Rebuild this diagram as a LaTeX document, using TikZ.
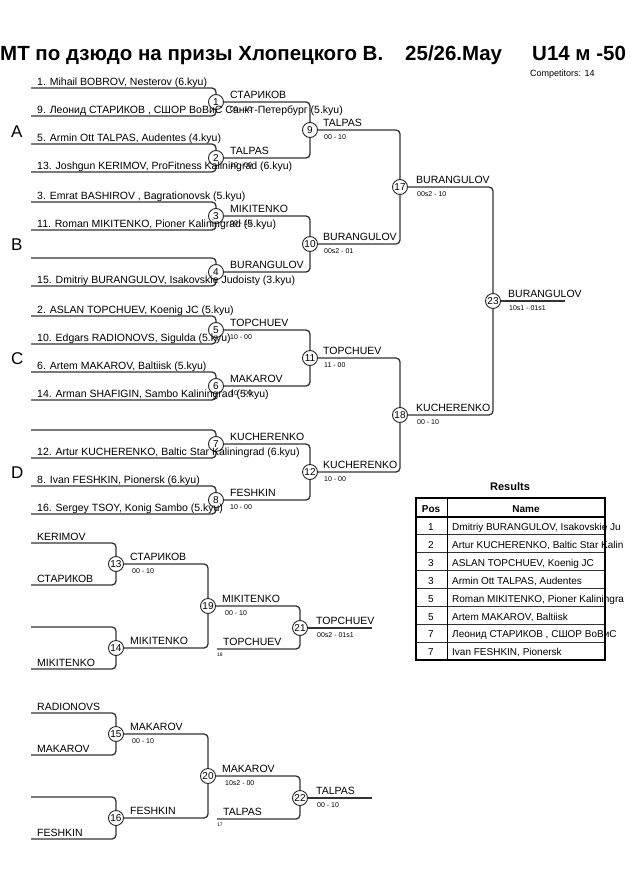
\documentclass[tikz,border=0pt]{standalone}
\usepackage{fontspec}
\setmainfont{Liberation Sans}
\begin{document}
\begin{tikzpicture}[x=1pt,y=-1pt,
  br/.style={draw=black!80, line width=1.3pt, rounded corners=4pt},
  mc/.style={circle, draw=black!85, line width=0.9pt, minimum size=15pt, inner sep=0pt, font=\fontsize{10}{10}\selectfont},
  nm/.style={anchor=base west, inner sep=0pt, font=\fontsize{10.5}{12}\selectfont},
  sc/.style={anchor=base west, inner sep=0pt, font=\fontsize{7}{8}\selectfont},
  tiny/.style={anchor=base west, inner sep=0pt, font=\fontsize{5}{6}\selectfont},
  sec/.style={anchor=base west, inner sep=0pt, font=\fontsize{17}{18}\selectfont},
  tl/.style={anchor=base west, inner sep=0pt, font=\fontsize{20.5}{22}\selectfont\bfseries},
  tbc/.style={anchor=base, inner sep=0pt, font=\fontsize{10}{12}\selectfont},
  tbh/.style={anchor=base, inner sep=0pt, font=\fontsize{10}{12}\selectfont\bfseries},
  tbn/.style={anchor=base west, inner sep=0pt, font=\fontsize{10}{12}\selectfont},
]
\clip (0,0) rectangle (630,891);
\fill[white] (0,0) rectangle (630,891);

% title
\node[tl] (t1) at (0,60) {МТ по дзюдо на призы Хлопецкого В.};
\node[tl] (t2) at (405,60) {25/26.May};
\node[tl] (t3) at (532,60) {U14 м -50};
\node[anchor=base west, inner sep=0pt, font=\fontsize{9}{10}\selectfont] (comp) at (530,77) {Competitors: 14};

% section letters
\node[sec] (sA) at (11,137) {A};
\node[sec] (sB) at (11,250) {B};
\node[sec] (sC) at (11,364) {C};
\node[sec] (sD) at (11,478) {D};

% ---------- main bracket circles ----------
\node[mc] (m1) at (216,102) {1};
\node[mc] (m2) at (216,158) {2};
\node[mc] (m3) at (216,216) {3};
\node[mc] (m4) at (216,272) {4};
\node[mc] (m5) at (216,330) {5};
\node[mc] (m6) at (216,386) {6};
\node[mc] (m7) at (216,444) {7};
\node[mc] (m8) at (216,500) {8};
\node[mc] (m9) at (310,130) {9};
\node[mc] (m10) at (310,244) {10};
\node[mc] (m11) at (310,358) {11};
\node[mc] (m12) at (310,472) {12};
\node[mc] (m17) at (400,187) {17};
\node[mc] (m18) at (400,415) {18};
\node[mc] (m23) at (493,301) {23};

% first-round entry lines
\foreach \k/\c in {1/102,2/158,3/216,4/272,5/330,6/386,7/444,8/500}{
  \coordinate (a\k) at (31,\c-14);
  \coordinate (b\k) at (31,\c+14);
  \draw[br] (a\k) -| (m\k);
  \draw[br] (b\k) -| (m\k);
}
\draw[br] (m1) -| (m9);  \draw[br] (m2) -| (m9);
\draw[br] (m3) -| (m10); \draw[br] (m4) -| (m10);
\draw[br] (m5) -| (m11); \draw[br] (m6) -| (m11);
\draw[br] (m7) -| (m12); \draw[br] (m8) -| (m12);
\draw[br] (m9) -| (m17); \draw[br] (m10) -| (m17);
\draw[br] (m11) -| (m18); \draw[br] (m12) -| (m18);
\draw[br] (m17) -| (m23); \draw[br] (m18) -| (m23);
\coordinate (fin) at (565,301);
\draw[br] (m23) -- (fin);

% competitor names
\node[nm] (n1) at (37,85) {1. Mihail BOBROV, Nesterov (6.kyu)};
\node[nm] (n9) at (37,113) {9. Леонид  СТАРИКОВ  , СШОР ВоВиС Санкт-Петербург (5.kyu)};
\node[nm] (n5) at (37,141) {5. Armin Ott TALPAS, Audentes (4.kyu)};
\node[nm] (n13) at (37,169) {13. Joshgun KERIMOV, ProFitness Kaliningrad (6.kyu)};
\node[nm] (n3) at (37,199) {3. Emrat BASHIROV , Bagrationovsk (5.kyu)};
\node[nm] (n11) at (37,227) {11. Roman MIKITENKO, Pioner Kaliningrad (5.kyu)};
\node[nm] (n15) at (37,283) {15. Dmitriy BURANGULOV, Isakovskie Judoisty (3.kyu)};
\node[nm] (n2) at (37,313) {2. ASLAN TOPCHUEV, Koenig JC (5.kyu)};
\node[nm] (n10) at (37,341) {10. Edgars RADIONOVS, Sigulda (5.kyu)};
\node[nm] (n6) at (37,369) {6. Artem MAKAROV, Baltiisk (5.kyu)};
\node[nm] (n14) at (37,397) {14. Arman SHAFIGIN, Sambo Kaliningrad (5.kyu)};
\node[nm] (n12) at (37,455) {12. Artur KUCHERENKO, Baltic Star Kaliningrad (6.kyu)};
\node[nm] (n8) at (37,483) {8. Ivan FESHKIN, Pionersk (6.kyu)};
\node[nm] (n16) at (37,511) {16. Sergey TSOY, Konig Sambo (5.kyu)};

% winners round 1
\node[nm] (w1) at (230,98) {СТАРИКОВ};   \node[sc] (s1) at (230,111) {00 - 10};
\node[nm] (w2) at (230,154) {TALPAS};    \node[sc] (s2) at (230,167) {10 - 00};
\node[nm] (w3) at (230,212) {MIKITENKO}; \node[sc] (s3) at (230,225) {00 - 10};
\node[nm] (w4) at (230,268) {BURANGULOV};
\node[nm] (w5) at (230,326) {TOPCHUEV};  \node[sc] (s5) at (230,339) {10 - 00};
\node[nm] (w6) at (230,382) {MAKAROV};   \node[sc] (s6) at (230,395) {10 - 00};
\node[nm] (w7) at (230,440) {KUCHERENKO};
\node[nm] (w8) at (230,496) {FESHKIN};   \node[sc] (s8) at (230,509) {10 - 00};
% winners round 2
\node[nm] (w9) at (323,126) {TALPAS};      \node[sc] (s9) at (324,139) {00 - 10};
\node[nm] (w10) at (323,240) {BURANGULOV}; \node[sc] (s10) at (324,253) {00s2 - 01};
\node[nm] (w11) at (323,354) {TOPCHUEV};   \node[sc] (s11) at (324,367) {11 - 00};
\node[nm] (w12) at (323,468) {KUCHERENKO}; \node[sc] (s12) at (324,481) {10 - 00};
% winners round 3
\node[nm] (w17) at (416,183) {BURANGULOV}; \node[sc] (s17) at (417,196) {00s2 - 10};
\node[nm] (w18) at (416,411) {KUCHERENKO}; \node[sc] (s18) at (417,424) {00 - 10};
% final
\node[nm] (w23) at (508,297) {BURANGULOV}; \node[sc] (s23) at (509,310) {10s1 - 01s1};

% ---------- repechage 1 ----------
\node[mc] (m13) at (116,564) {13};
\node[mc] (m14) at (116,648) {14};
\node[mc] (m19) at (208,606) {19};
\node[mc] (m21) at (300,628) {21};
\coordinate (r13a) at (31,543); \coordinate (r13b) at (31,585);
\coordinate (r14a) at (31,627); \coordinate (r14b) at (31,669);
\coordinate (r21b) at (217,649); \coordinate (r21e) at (372,628);
\draw[br] (r13a) -| (m13); \draw[br] (r13b) -| (m13);
\draw[br] (r14a) -| (m14); \draw[br] (r14b) -| (m14);
\draw[br] (m13) -| (m19); \draw[br] (m14) -| (m19);
\draw[br] (m19) -| (m21); \draw[br] (r21b) -| (m21);
\draw[br] (m21) -- (r21e);
\node[nm] (rn1) at (37,540) {KERIMOV};
\node[nm] (rn2) at (37,582) {СТАРИКОВ};
\node[nm] (rn3) at (37,666) {MIKITENKO};
\node[nm] (w13) at (130,560) {СТАРИКОВ};  \node[sc] (s13) at (132,573) {00 - 10};
\node[nm] (w14) at (130,644) {MIKITENKO};
\node[nm] (w19) at (222,602) {MIKITENKO}; \node[sc] (s19) at (225,615) {00 - 10};
\node[nm] (i21) at (223,645) {TOPCHUEV};  \node[tiny] (f21) at (217,656) {18};
\node[nm] (w21) at (316,624) {TOPCHUEV};  \node[sc] (s21) at (317,637) {00s2 - 01s1};

% ---------- repechage 2 ----------
\node[mc] (m15) at (116,734) {15};
\node[mc] (m16) at (116,818) {16};
\node[mc] (m20) at (208,776) {20};
\node[mc] (m22) at (300,798) {22};
\coordinate (r15a) at (31,713); \coordinate (r15b) at (31,755);
\coordinate (r16a) at (31,797); \coordinate (r16b) at (31,839);
\coordinate (r22b) at (217,819); \coordinate (r22e) at (372,798);
\draw[br] (r15a) -| (m15); \draw[br] (r15b) -| (m15);
\draw[br] (r16a) -| (m16); \draw[br] (r16b) -| (m16);
\draw[br] (m15) -| (m20); \draw[br] (m16) -| (m20);
\draw[br] (m20) -| (m22); \draw[br] (r22b) -| (m22);
\draw[br] (m22) -- (r22e);
\node[nm] (rn4) at (37,710) {RADIONOVS};
\node[nm] (rn5) at (37,752) {MAKAROV};
\node[nm] (rn6) at (37,836) {FESHKIN};
\node[nm] (w15) at (130,730) {MAKAROV};  \node[sc] (s15) at (132,743) {00 - 10};
\node[nm] (w16) at (130,814) {FESHKIN};
\node[nm] (w20) at (222,772) {MAKAROV};  \node[sc] (s20) at (225,785) {10s2 - 00};
\node[nm] (i22) at (223,815) {TALPAS};   \node[tiny] (f22) at (217,826) {17};
\node[nm] (w22) at (316,794) {TALPAS};   \node[sc] (s22) at (317,807) {00 - 10};

% ---------- results table ----------
\node[anchor=base, inner sep=0pt, font=\fontsize{11}{12}\selectfont\bfseries] (res) at (510,490) {Results};
\foreach \r/\p/\t in {0/1/{Dmitriy BURANGULOV, Isakovskie Ju},
                     1/2/{Artur KUCHERENKO, Baltic Star Kalin},
                     2/3/{ASLAN TOPCHUEV, Koenig JC},
                     3/3/{Armin Ott TALPAS, Audentes},
                     4/5/{Roman MIKITENKO, Pioner Kaliningra},
                     5/5/{Artem MAKAROV, Baltiisk},
                     6/7/{Леонид  СТАРИКОВ , СШОР ВоВиС},
                     7/7/{Ivan FESHKIN, Pionersk}}{
  \node[tbc] (p\r) at (431,530.5+17.9*\r) {\p};
  \node[tbn] (q\r) at (452,530.5+17.9*\r) {\t};
}
\foreach \r in {1,...,7}{\draw[black!80, line width=0.9pt] (416,517+17.9*\r) -- (605,517+17.9*\r);}
\draw[black, line width=1.2pt] (416,517) -- (605,517);
\draw[black, line width=0.9pt] (447,498) -- (447,660);
\draw[black, line width=1.8pt] (416,498) rectangle (605,660);
\node[tbh] (hp) at (431,512) {Pos};
\node[tbh] (hn) at (526,512) {Name};
\end{tikzpicture}
\end{document}
